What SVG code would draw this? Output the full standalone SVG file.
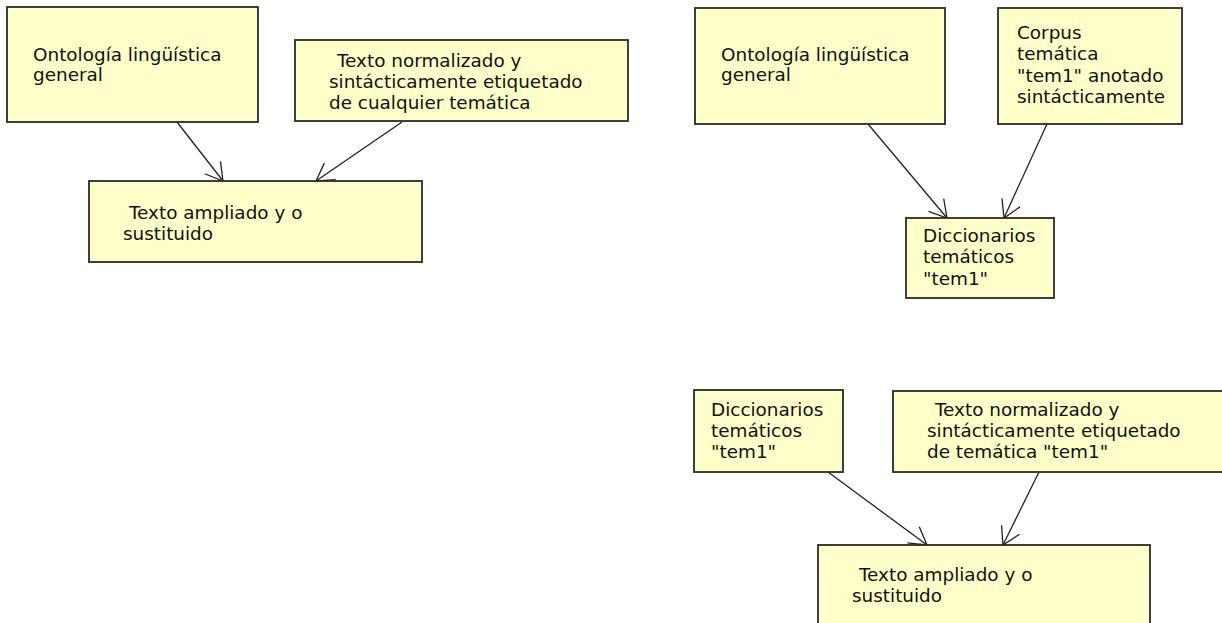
<svg xmlns="http://www.w3.org/2000/svg" width="1222" height="623" viewBox="0 0 1222 623">
  <defs>
    <style>
      .box { fill: #FFFFC9; stroke: #2b2b2b; stroke-width: 1.8; }
      .lbl { font-family: "DejaVu Sans", "Noto Sans", sans-serif; font-size: 18.4px; fill: #111; }
      .edge { fill: none; stroke: #222; stroke-width: 1.3; }
    </style>
    <marker id="open" markerUnits="userSpaceOnUse" markerWidth="24" markerHeight="24"
            viewBox="-20 -12 24 24" refX="0" refY="0" orient="auto">
      <path d="M-17,-10 L0,0 L-17,10" fill="none" stroke="#222" stroke-width="1.3"/>
    </marker>
  </defs>
  <rect width="1222" height="623" fill="#ffffff"/>

  <!-- connectors -->
  <g id="connectors">
    <line class="edge" x1="177" y1="122" x2="223" y2="181" marker-end="url(#open)"/>
    <line class="edge" x1="402" y1="122" x2="316" y2="181" marker-end="url(#open)"/>
    <line class="edge" x1="868" y1="124" x2="947" y2="218" marker-end="url(#open)"/>
    <line class="edge" x1="1047" y1="124" x2="1004" y2="218" marker-end="url(#open)"/>
    <line class="edge" x1="828" y1="472" x2="927" y2="545" marker-end="url(#open)"/>
    <line class="edge" x1="1039" y1="472" x2="1003" y2="545" marker-end="url(#open)"/>
  </g>

  <!-- general pipeline -->
  <g id="ontologia-1">
    <rect class="box" x="7" y="7" width="251" height="115"/>
    <text class="lbl" x="33" y="61">Ontología lingüística</text>
    <text class="lbl" x="33" y="81">general</text>
  </g>
  <g id="texto-normalizado-general">
    <rect class="box" x="295" y="40" width="333" height="81"/>
    <text class="lbl" x="337" y="67">Texto normalizado y</text>
    <text class="lbl" x="329" y="88">sintácticamente etiquetado</text>
    <text class="lbl" x="329" y="109">de cualquier temática</text>
  </g>
  <g id="texto-ampliado-1">
    <rect class="box" x="89" y="181" width="333" height="81"/>
    <text class="lbl" x="129" y="219">Texto ampliado y o</text>
    <text class="lbl" x="123" y="240">sustituido</text>
  </g>

  <!-- dictionary construction -->
  <g id="ontologia-2">
    <rect class="box" x="695" y="8" width="250" height="116"/>
    <text class="lbl" x="721" y="61">Ontología lingüística</text>
    <text class="lbl" x="721" y="81">general</text>
  </g>
  <g id="corpus-tem1">
    <rect class="box" x="998" y="8" width="184" height="116"/>
    <text class="lbl" x="1017" y="39">Corpus</text>
    <text class="lbl" x="1017" y="60">temática</text>
    <text class="lbl" x="1017" y="82">"tem1" anotado</text>
    <text class="lbl" x="1017" y="103">sintácticamente</text>
  </g>
  <g id="diccionarios-1">
    <rect class="box" x="906" y="218" width="148" height="80"/>
    <text class="lbl" x="923" y="242">Diccionarios</text>
    <text class="lbl" x="923" y="263">temáticos</text>
    <text class="lbl" x="923" y="285">"tem1"</text>
  </g>

  <!-- thematic pipeline -->
  <g id="diccionarios-2">
    <rect class="box" x="694" y="390" width="149" height="82"/>
    <text class="lbl" x="711" y="416">Diccionarios</text>
    <text class="lbl" x="711" y="437">temáticos</text>
    <text class="lbl" x="711" y="458">"tem1"</text>
  </g>
  <g id="texto-normalizado-tem1">
    <rect class="box" x="893" y="391" width="333" height="81"/>
    <text class="lbl" x="935" y="416">Texto normalizado y</text>
    <text class="lbl" x="927" y="437">sintácticamente etiquetado</text>
    <text class="lbl" x="927" y="458">de temática "tem1"</text>
  </g>
  <g id="texto-ampliado-2">
    <rect class="box" x="818" y="545" width="332" height="81"/>
    <text class="lbl" x="859" y="581">Texto ampliado y o</text>
    <text class="lbl" x="852" y="602">sustituido</text>
  </g>
</svg>
